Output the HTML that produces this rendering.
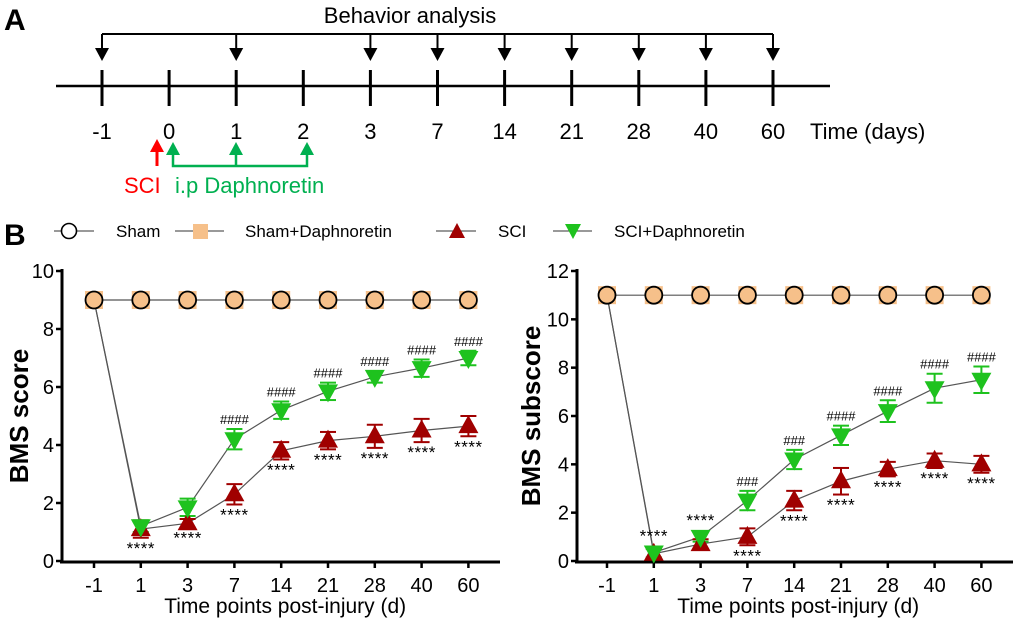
<!DOCTYPE html>
<html><head><meta charset="utf-8"><style>
body{margin:0;background:#fff;}
svg{display:block;font-family:"Liberation Sans",Arial,sans-serif;}
</style></head><body>
<svg id="fig" width="1020" height="624" viewBox="0 0 1020 624">
<g>
<text x="4" y="30" font-size="30" font-weight="bold">A</text>
<text x="410" y="23" font-size="22" text-anchor="middle">Behavior analysis</text>
<line x1="56" y1="86" x2="830" y2="86" stroke="#000" stroke-width="2.5"/>
<line x1="102" y1="34" x2="773" y2="34" stroke="#000" stroke-width="2"/>
<g id="tl"></g>
<text x="810" y="139" font-size="22">Time (days)</text>
<line x1="157" y1="166" x2="157" y2="150" stroke="#f00" stroke-width="3"/>
<polygon points="150,152 164,152 157,139" fill="#f00"/>
<polyline points="173,155 173,166 307,166 307,155" fill="none" stroke="#00b050" stroke-width="2.5"/>
<line x1="236" y1="166" x2="236" y2="155" stroke="#00b050" stroke-width="2.5"/>
<polygon points="166,155 180,155 173,142" fill="#00b050"/>
<polygon points="229,155 243,155 236,142" fill="#00b050"/>
<polygon points="300,155 314,155 307,142" fill="#00b050"/>
<text x="124" y="193" font-size="22" fill="#f00">SCI</text>
<text x="175" y="193" font-size="22" fill="#00b050">i.p Daphnoretin</text>
</g>
<g>
<text x="4" y="245" font-size="30" font-weight="bold">B</text>
<line x1="54" y1="231" x2="94" y2="231" stroke="#333" stroke-width="1"/>
<circle cx="69" cy="231" r="7.5" fill="#fff" stroke="#000" stroke-width="1.6"/>
<text x="116" y="237" font-size="17">Sham</text>
<line x1="175" y1="231" x2="224" y2="231" stroke="#333" stroke-width="1"/>
<rect x="193" y="224" width="15" height="15" fill="#f6c08a"/>
<text x="245" y="237" font-size="17">Sham+Daphnoretin</text>
<line x1="436" y1="231" x2="476" y2="231" stroke="#333" stroke-width="1"/>
<polygon points="449,238 465,238 457,223" fill="#a00000"/>
<text x="498" y="237" font-size="17">SCI</text>
<line x1="553" y1="231" x2="592" y2="231" stroke="#333" stroke-width="1"/>
<polygon points="565,224 581,224 573,239" fill="#1ec21e"/>
<text x="614" y="237" font-size="17">SCI+Daphnoretin</text>
</g>
<g id="c1"></g>
<g id="c2"></g>
</svg>
<script>
const timelineDays=["-1","0","1","2","3","7","14","21","28","40","60"];
const behaviorDays=["-1","1","3","7","14","21","28","40","60"];
const categories=["-1","1","3","7","14","21","28","40","60"];
const shamScore=[9,9,9,9,9,9,9,9,9];
const sciScore=[9,1.1,1.3,2.3,3.8,4.15,4.3,4.5,4.65];
const sciScoreErr=[0,0.3,0.15,0.35,0.3,0.3,0.4,0.4,0.35];
const daphScore=[9,1.2,1.85,4.2,5.2,5.85,6.35,6.65,7.0];
const daphScoreErr=[0,0.2,0.3,0.35,0.3,0.3,0.2,0.3,0.25];
const scoreMarks=["","****","****","****","****","****","****","****","****"];
const scoreHash=["","","","####","####","####","####","####","####"];
const shamSub=[11,11,11,11,11,11,11,11,11];
const sciSub=[11,0.3,0.7,1.0,2.5,3.3,3.8,4.15,4.0];
const sciSubErr=[0,0.2,0.2,0.35,0.4,0.55,0.3,0.3,0.35];
const daphSub=[11,0.35,1.0,2.5,4.2,5.2,6.2,7.15,7.5];
const daphSubErr=[0,0.2,0.2,0.4,0.4,0.4,0.45,0.6,0.55];
const subMarks=["","****","****","****","****","****","****","****","****"];
const subHash=["","","","###","###","####","####","####","####"];
const NS="http://www.w3.org/2000/svg";
function mk(p,t,a){const e=document.createElementNS(NS,t);for(const k in a)e.setAttribute(k,a[k]);p.appendChild(e);return e;}
const tl=document.getElementById('tl');
timelineDays.forEach((d,i)=>{const x=102+i*67.1;
 const t=mk(tl,'line',{x1:x,y1:70,x2:x,y2:106,stroke:'#000','stroke-width':3});
 
 
 const l=mk(tl,'text',{x:x,y:139,'font-size':22,'text-anchor':'middle'});l.textContent=d;
 
 
 if(behaviorDays.includes(d)){
  mk(tl,'line',{x1:x,y1:34,x2:x,y2:50,stroke:'#000','stroke-width':2});
  const a=mk(tl,'polygon',{points:`${x-7},${48} ${x+7},${48} ${x},${61}`,fill:'#000'});
  
  
 }
});
function chart(g,o){
 const X0=o.x0,DX=46.8,Y0=561,PX=290/o.ymax;
 const xs=i=>X0+i*DX, ys=v=>Y0-v*PX;
 mk(g,'line',{x1:o.ax,y1:o.top-1,x2:o.ax,y2:Y0+2,stroke:'#000','stroke-width':3});
 mk(g,'line',{x1:o.ax-2,y1:Y0+1,x2:o.xend,y2:Y0+1,stroke:'#000','stroke-width':3});
 for(let v=0;v<=o.ymax;v+=2){const y=ys(v);
  mk(g,'line',{x1:o.ax-6,y1:y,x2:o.ax,y2:y,stroke:'#000','stroke-width':2.5});
  const t=mk(g,'text',{x:o.ax-8,y:y+7,'font-size':20,'text-anchor':'end'});t.textContent=v;
  
  }
 categories.forEach((c,i)=>{const x=xs(i);
  mk(g,'line',{x1:x,y1:Y0,x2:x,y2:Y0+7,stroke:'#000','stroke-width':2.5});
  const t=mk(g,'text',{x:x,y:Y0+31,'font-size':20,'text-anchor':'middle'});t.textContent=c;
  
  });
 const xt=mk(g,'text',{x:(xs(0)+xs(8))/2+4,y:613,'font-size':21,'text-anchor':'middle'});xt.textContent='Time points post-injury (d)';
 
 
 const yt=mk(g,'text',{x:0,y:0,'font-size':26,'font-weight':'bold','text-anchor':'middle',transform:`translate(${o.ytx},${ys(o.ymax/2)}) rotate(-90)`});yt.textContent=o.ytitle;
 
 
 const line=(arr)=>mk(g,'polyline',{points:arr.map((v,i)=>xs(i)+','+ys(v)).join(' '),fill:'none',stroke:'#555','stroke-width':1.2});
 line(o.sham);line(o.sci);line(o.daph);
 const err=(arr,e,col)=>arr.forEach((v,i)=>{if(!e[i])return;const x=xs(i);
  mk(g,'line',{x1:x,y1:ys(v-e[i]),x2:x,y2:ys(v+e[i]),stroke:col,'stroke-width':2});
  [v-e[i],v+e[i]].forEach(w=>mk(g,'line',{x1:x-8,y1:ys(w),x2:x+8,y2:ys(w),stroke:col,'stroke-width':2}));});
 err(o.sci,o.sciE,'#a00000');err(o.daph,o.daphE,'#1ec21e');
 o.sham.forEach((v,i)=>{const x=xs(i),y=ys(v);
  const r=mk(g,'rect',{x:x-9,y:y-9,width:18,height:18,fill:'#f6c08a'});
  
  
  const c=mk(g,'circle',{cx:x,cy:y,r:8.5,fill:'#f6c08a',stroke:'#000','stroke-width':1.8});
  
  });
 o.sci.forEach((v,i)=>{if(i==0)return;const x=xs(i),y=ys(v);
  const p=mk(g,'polygon',{points:`${x-10},${y+7} ${x+10},${y+7} ${x},${y-11}`,fill:'#a00000'});
  
  });
 o.daph.forEach((v,i)=>{if(i==0)return;const x=xs(i),y=ys(v);
  const p=mk(g,'polygon',{points:`${x-10},${y-7} ${x+10},${y-7} ${x},${y+11}`,fill:'#1ec21e'});
  
  });
 o.sci.forEach((v,i)=>{if(!o.marks[i])return;
  const above=o.above&&o.above[i];
  const y=above?ys(Math.max(v,o.daph[i])+o.daphE[i])-6:ys(v-o.sciE[i])+16;
  const t=mk(g,'text',{x:xs(i),y:y,'font-size':17,'letter-spacing':'0.5','text-anchor':'middle'});t.textContent=o.marks[i];
  
  });
 o.daph.forEach((v,i)=>{if(!o.hash[i])return;
  const t=mk(g,'text',{x:xs(i),y:ys(v+o.daphE[i])-5,'font-size':13,'text-anchor':'middle'});t.textContent=o.hash[i];
  
  });
}
chart(document.getElementById('c1'),{x0:94,ax:62,xend:500,top:270,ymax:10,ytitle:'BMS score',ytx:28,
 sham:shamScore,sci:sciScore,sciE:sciScoreErr,daph:daphScore,daphE:daphScoreErr,marks:scoreMarks,hash:scoreHash});
chart(document.getElementById('c2'),{x0:607,ax:577,xend:1013,top:270,ymax:12,ytitle:'BMS subscore',ytx:540,
 sham:shamSub,sci:sciSub,sciE:sciSubErr,daph:daphSub,daphE:daphSubErr,marks:subMarks,hash:subHash,
 above:[false,true,true,false,false,false,false,false,false]});
</script>
</body></html>
